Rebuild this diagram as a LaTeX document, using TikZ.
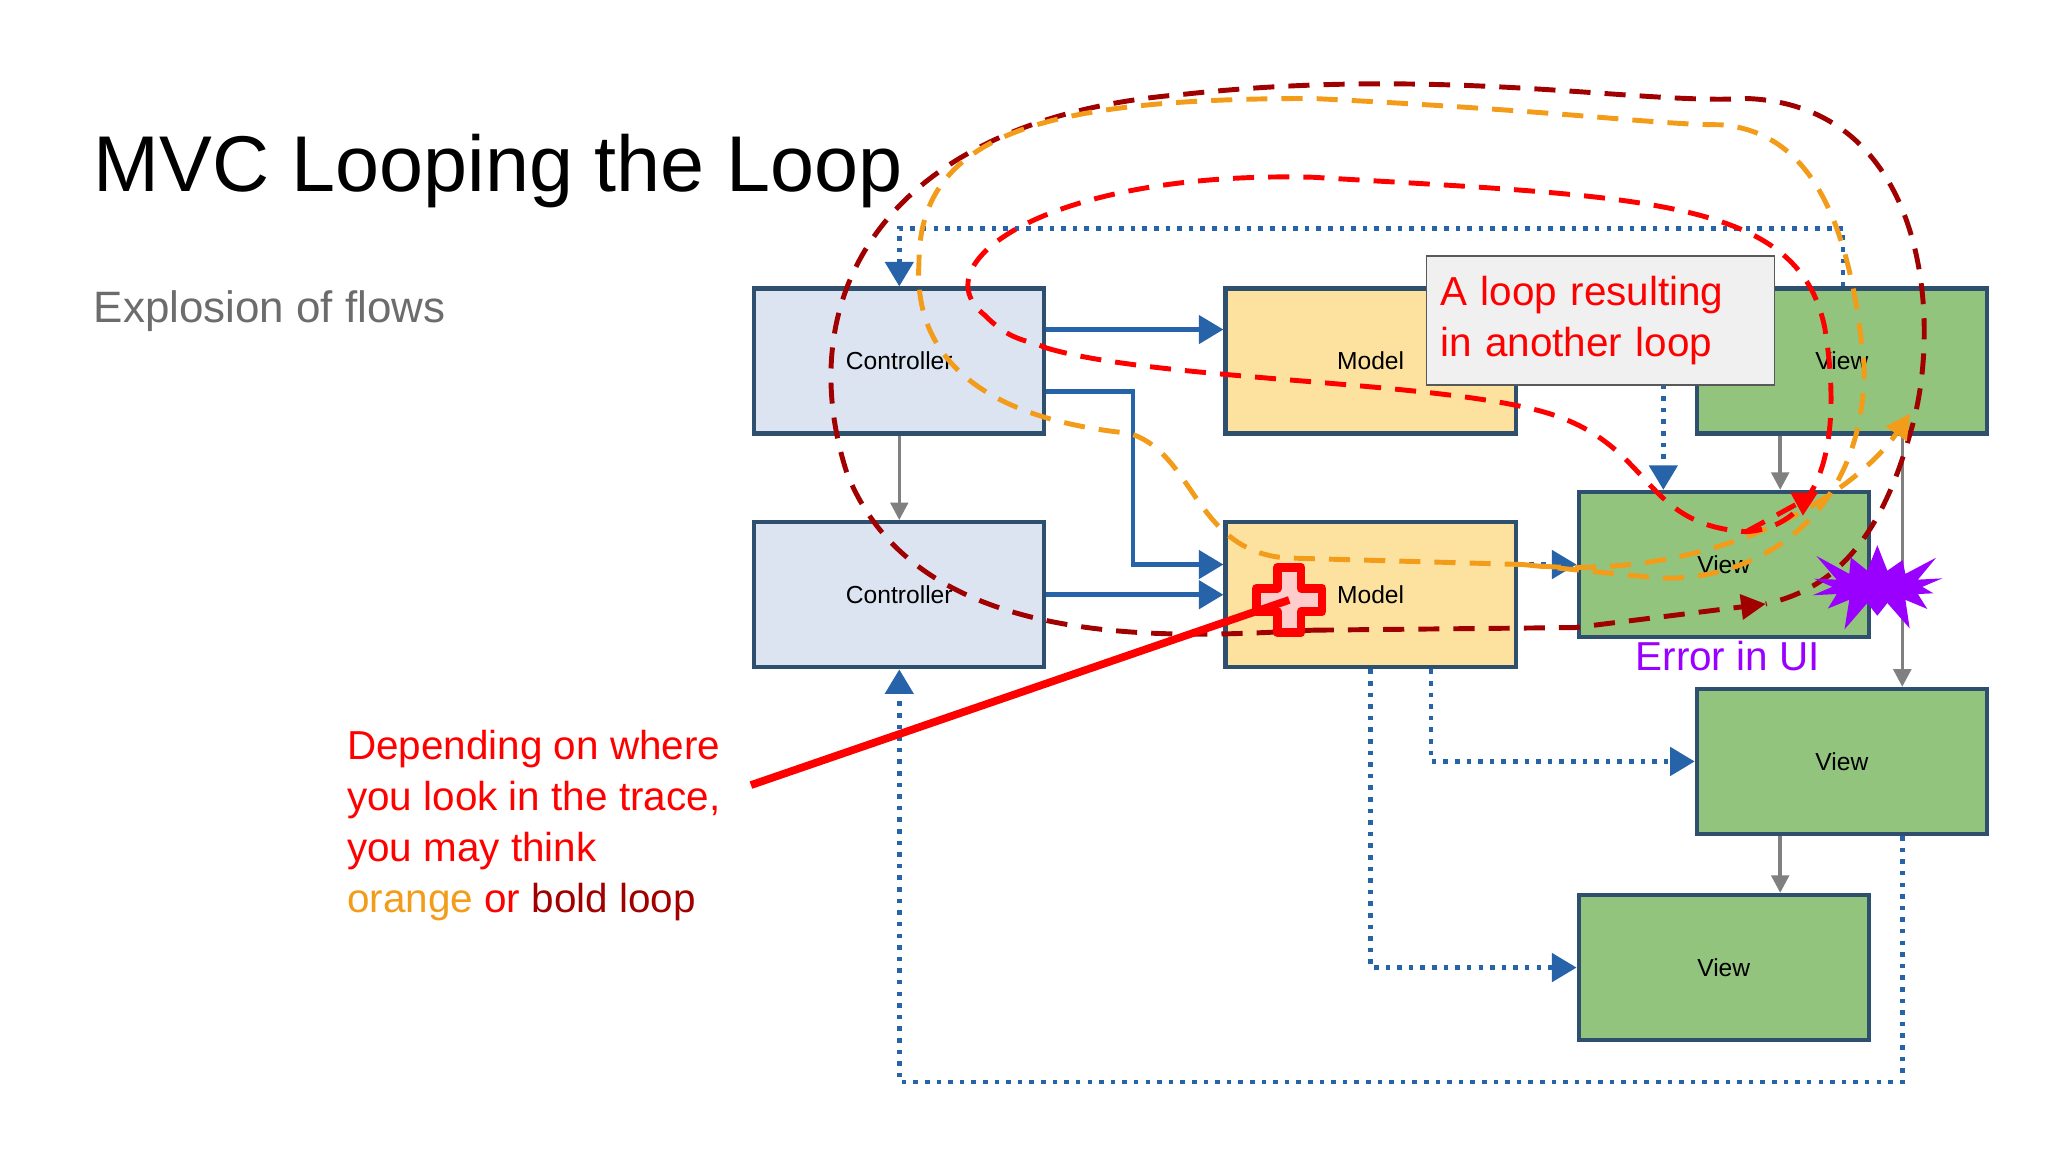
\documentclass[tikz,border=0pt]{standalone}
\usepackage{fontspec}
\setmainfont{Liberation Sans}
\usetikzlibrary{arrows.meta,shapes.symbols}
\definecolor{ctrl}{HTML}{DCE4F2}
\definecolor{model}{HTML}{FCE29E}
\definecolor{view}{HTML}{93C47D}
\definecolor{edge}{HTML}{2E4F6E}
\definecolor{flow}{HTML}{2763A8}
\definecolor{darkred}{HTML}{A00000}
\definecolor{orng}{HTML}{F29C1A}
\definecolor{purp}{HTML}{9900FF}
\tikzstyle{block} = [rectangle, minimum width=2.9cm, minimum height=1.45cm,
text centered, draw=edge, line width=1.2pt, font=\fontsize{7}{8}\selectfont]
\tikzstyle{controller} = [block, fill=ctrl]
\tikzstyle{model} = [block, fill=model]
\tikzstyle{view} = [block, fill=view]
\tikzstyle{arrow} = [flow, line width=1.3pt, -{Triangle[length=7pt,width=8pt]}]
\tikzstyle{dotarrow} = [flow, dotted, line width=1.3pt, -{Triangle[length=7pt,width=8pt]}]
\tikzstyle{grayarrow} = [gray, line width=1pt, -{Triangle[length=5pt,width=5pt]}]
\tikzstyle{loop} = [dashed, line width=1.4pt, dash pattern=on 6pt off 4pt]
\tikzstyle{note} = [text=red, font=\fontsize{11.5}{14.5}\selectfont, align=left]
\begin{document}
\begin{tikzpicture}[x=0.013128cm, y=-0.013128cm]
    \useasboundingbox (0,0) rectangle (1560,877.5);
    \node[anchor=west, font=\fontsize{22.5}{25}\selectfont] (title) at (62,130) {MVC Looping the Loop};
    \node[anchor=west, text=gray!85!black, font=\fontsize{12.5}{14}\selectfont] (sub) at (62,237) {Explosion of flows};

    \node (ctrl1) [controller] at (685,275) {Controller};
    \node (ctrl2) [controller] at (685,453) {Controller};
    \node (mod1) [model] at (1044,275) {Model};
    \node (mod2) [model] at (1044,453) {Model};
    \node (view1) [view] at (1403,275) {View};
    \node (view2) [view] at (1313,430) {View};
    \node (view3) [view] at (1403,580) {View};
    \node (view4) [view] at (1313,737) {View};

    % solid flows
    \draw [arrow] (ctrl1.east |- 0,251) -- (mod1.west |- 0,251);
    \draw [arrow] (ctrl1.east |- 0,298) -- (863,298) |- (mod2.west |- 0,430);
    \draw [arrow] (ctrl2.east |- 0,453) -- (mod2.west |- 0,453);
    \draw [grayarrow] (ctrl1) -- (ctrl2);
    \draw [grayarrow] (view1.south -| 1356,0) -- (view2.north -| 1356,0);
    \draw [grayarrow] (view1.south -| 1449,0) -- (view3.north -| 1449,0);
    \draw [grayarrow] (view3.south -| 1356,0) -- (view4.north -| 1356,0);

    % dotted flows
    \draw [dotarrow] (view1.north -| 1404,0) -- (1404,174) -| (ctrl1.north);
    \draw [dotarrow] (mod2.east |- 0,430) -- (view2.west |- 0,430);
    \draw [dotarrow] (mod2.south -| 1090,0) |- (view3.west);
    \draw [dotarrow] (mod2.south -| 1044,0) |- (view4.west);
    \draw [dotarrow] (view3.south -| 1449,0) -- (1449,824) -| (ctrl2.south);
    \draw [dotarrow] (1267,293) -- (view2.north -| 1267,0);

    % note box
    \node (loopnote) [draw=gray!70!black, fill=gray!12, minimum width=3.48cm, minimum height=1.29cm,
        text width=3.2cm, note] at (1219,244) {A loop resulting\\in another loop};

    % loops
    \draw [loop, darkred] (1000,480) .. controls (900,485) and (700,500) .. (645,360)
        .. controls (600,220) and (680,90) .. (900,72) .. controls (1100,50) and (1250,80) .. (1330,75)
        .. controls (1470,80) and (1480,250) .. (1455,330) .. controls (1430,420) and (1390,450) .. (1345,460);
    \draw [loop, darkred, -{Triangle[length=7pt,width=7pt]}] (1000,480) -- (1200,478) -- (1345,460);
    \draw [loop, orng, -{Triangle[length=7pt,width=7pt]}] (1160,430) -- (1260,440)
        .. controls (1330,445) and (1420,400) .. (1420,280) .. controls (1410,170) and (1380,100) .. (1310,95)
        .. controls (1260,95) and (1200,85) .. (1000,75) .. controls (800,75) and (700,100) .. (700,200)
        .. controls (695,280) and (760,320) .. (860,330) .. controls (910,345) and (910,420) .. (980,425) -- (1160,430)
        .. controls (1300,445) and (1410,380) .. (1455,315);
    \draw [loop, red] (797,265) .. controls (880,290) and (1100,290) .. (1180,315)
        .. controls (1260,340) and (1250,400) .. (1330,405) .. controls (1400,400) and (1400,310) .. (1390,250)
        .. controls (1370,150) and (1250,150) .. (1000,135) .. controls (800,130) and (700,200) .. (750,240)
        .. controls (770,260) and (780,258) .. (797,265);
    \draw [loop, red, -{Triangle[length=7pt,width=7pt]}] (1330,405) -- (1385,375);

    % error markers
    \coordinate (crossc) at (982,457);
    \draw [red, line width=2.5pt, fill=red!20, line join=round] ([shift={(-9,-25)}]crossc) -- ++(18,0) -- ++(0,16) -- ++(16,0)
        -- ++(0,18) -- ++(-16,0) -- ++(0,16) -- ++(-18,0) -- ++(0,-16) -- ++(-16,0) -- ++(0,-18) -- ++(16,0) -- cycle;
    \node (boom) [starburst, starburst points=14, starburst point height=0.35cm, fill=purp, draw=none,
        minimum width=1.6cm, minimum height=0.9cm] at (1430,447) {};
    \node (err) [text=purp, font=\fontsize{11.5}{14}\selectfont] at (1316,500) {Error in UI};

    \node (depend) [note, anchor=north west] at (255,547) {Depending on where\\you look in the trace,\\you may think\\
        \textcolor{orng}{orange} or \textcolor{darkred}{bold loop}};
    \draw [red, line width=2.2pt] (572,598) -- (crossc);
\end{tikzpicture}
\end{document}
